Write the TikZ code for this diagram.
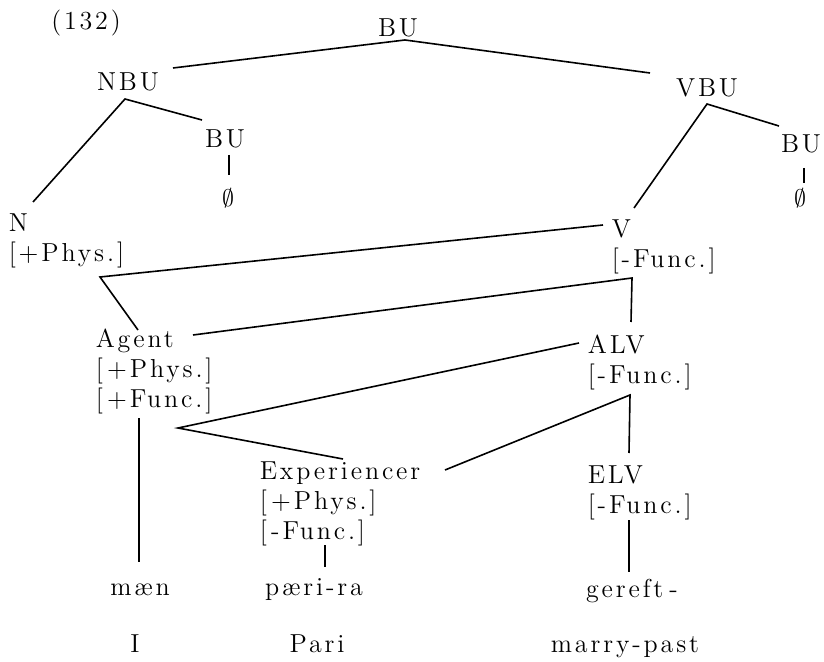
\documentclass[tikz,border=0pt]{standalone}
\usepackage{fontspec}
\setmainfont{lmroman12-regular.otf}[LetterSpace=11]
\usepackage{amsmath}

\tikzset{
  cat/.style={inner sep=0pt,anchor=base},
  feat/.style={inner sep=0pt,anchor=base west,align=left},
}

\begin{document}
\begin{tikzpicture}[x=0.5pt,y=-0.5pt,line width=0.8pt,
  font=\fontsize{13}{15}\selectfont]
  \useasboundingbox (0,0) rectangle (824,662);
  % numero
  \node[cat] (num) at (86,30) {(132)};
  % parte alta
  \node[cat] (bu) at (398,37) {BU};
  \node[cat] (nbu) at (128,91) {NBU};
  \node[cat] (vbu) at (707,97) {VBU};
  \node[cat] (bun) at (225,148) {BU};
  \node[cat] (buv) at (801,153) {BU};
  \node[cat] (nulln) at (228,207) {$\emptyset$};
  \node[cat] (nullv) at (800,207) {$\emptyset$};
  % rasgos (base = ultima linea)
  \node[feat] (n) at (8,262) {N\\{[}+Phys.]};
  \node[feat] (v) at (611,268) {V\\{[}-Func.]};
  \node[feat] (agent) at (95,408) {Agent\\{[}\,+Phys.]\\{[}\,+Func.]};
  \node[feat] (alv) at (587,384) {ALV\\{[}-Func.]};
  \node[feat] (exp) at (259,539) {Experiencer\\{[}\,+Phys.]\\{[}\,-Func.]};
  \node[feat] (elv) at (587,513) {ELV\\{[}-Func.]};
  % palabras y glosas
  \node[cat] (maen) at (140,595) {mæn};
  \node[cat] (pari) at (314,595) {pæri-ra};
  \node[cat] (gereft) at (632,597) {gereft\hspace{3pt}-};
  \node[cat] (gl1) at (135,652) {I};
  \node[cat] (gl2) at (317,652) {Pari};
  \node[cat] (gl3) at (625,652) {marry-past};
  % puntos de union
  \coordinate (bu-f) at (405,40);
  \coordinate (nbu-t) at (173,68);
  \coordinate (vbu-t) at (650,73);
  \coordinate (nbu-f) at (125,99);
  \coordinate (n-t) at (33,202);
  \coordinate (bun-t) at (202,120);
  \coordinate (vbu-f) at (707,104);
  \coordinate (buv-t) at (779,126);
  \coordinate (v-t) at (634,208);
  \coordinate (n-f) at (100,277);
  \coordinate (v-l) at (603,225);
  \coordinate (agent-t) at (138,330);
  \coordinate (v-f) at (632,278);
  \coordinate (agent-r) at (193,335);
  \coordinate (alv-t) at (631,322);
  \coordinate (agent-f) at (178,428);
  \coordinate (alv-l) at (579,343);
  \coordinate (exp-t) at (343,459);
  \coordinate (alv-f) at (630,395);
  \coordinate (exp-r) at (445,470);
  \coordinate (elv-t) at (629,453);
  % ramas
  \draw (nbu-t) -- (bu-f) -- (vbu-t);
  \draw (n-t) -- (nbu-f) -- (bun-t);
  \draw (v-t) -- (vbu-f) -- (buv-t);
  \draw (229,155) -- (229,175);
  \draw (804,168) -- (804,183);
  \draw (v-l) -- (n-f) -- (agent-t);
  \draw (agent-r) -- (v-f) -- (alv-t);
  \draw (alv-l) -- (agent-f) -- (exp-t);
  \draw (exp-r) -- (alv-f) -- (elv-t);
  \draw (139,418) -- (139,562);
  \draw (325,545) -- (325,567);
  \draw (629,520) -- (629,572);
\end{tikzpicture}
\end{document}
